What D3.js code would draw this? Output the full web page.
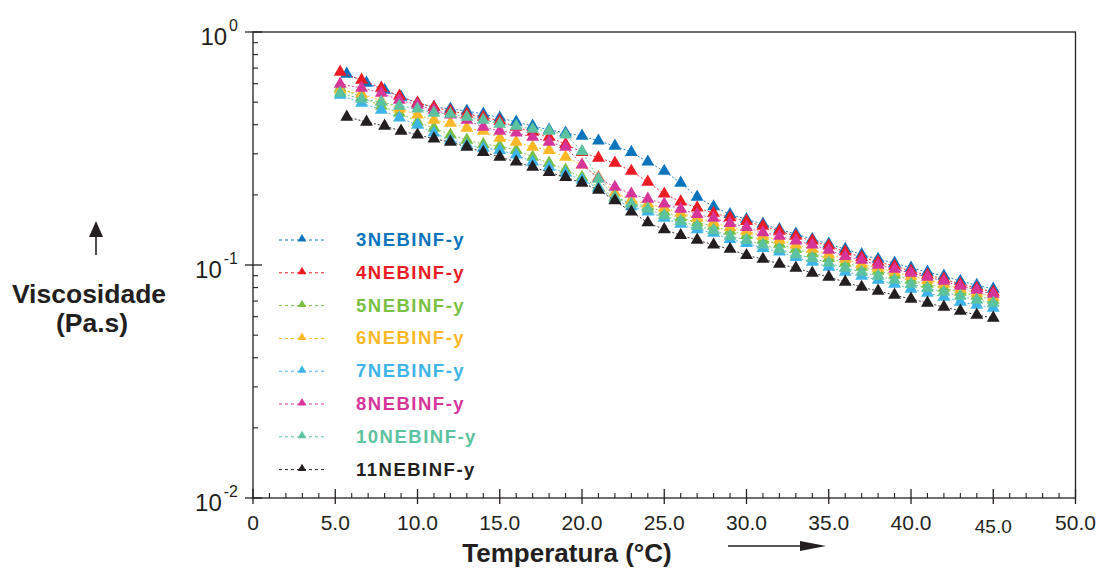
<!DOCTYPE html>
<html>
<head>
<meta charset="utf-8">
<script src="https://cdn.jsdelivr.net/npm/d3@7"></script>
<style>
  html, body { margin: 0; padding: 0; background: #fff; }
  svg { display: block; }
</style>
</head>
<body>
<svg id="chart" width="1104" height="569"></svg>
<script>
// ---------- data ----------
const tempsA = [5.3, 6.6, 7.8, 8.9, 10, 11, 12, 13, 14, 15, 16, 17, 18, 19, 20, 21, 22, 23, 24, 25, 26, 27, 28, 29, 30, 31, 32, 33, 34, 35, 36, 37, 38, 39, 40, 41, 42, 43, 44, 45];
const tempsB = [5.7, 6.9, 8.0, 9.0, 10, 11, 12, 13, 14, 15, 16, 17, 18, 19, 20, 21, 22, 23, 24, 25, 26, 27, 28, 29, 30, 31, 32, 33, 34, 35, 36, 37, 38, 39, 40, 41, 42, 43, 44, 45];

const visc3 = [0.660, 0.604, 0.563, 0.526, 0.496, 0.476, 0.468, 0.458, 0.445, 0.428, 0.411, 0.395, 0.380, 0.369, 0.358, 0.341, 0.324, 0.305, 0.277, 0.253, 0.225, 0.196, 0.178, 0.165, 0.157, 0.150, 0.142, 0.136, 0.129, 0.123, 0.117, 0.111, 0.106, 0.102, 0.0971, 0.0933, 0.0897, 0.0853, 0.0820, 0.0789];
const visc4 = [0.674, 0.622, 0.575, 0.531, 0.496, 0.476, 0.458, 0.445, 0.432, 0.415, 0.391, 0.372, 0.354, 0.330, 0.305, 0.288, 0.274, 0.253, 0.227, 0.202, 0.187, 0.176, 0.167, 0.160, 0.154, 0.147, 0.140, 0.133, 0.127, 0.121, 0.114, 0.108, 0.103, 0.0990, 0.0942, 0.0906, 0.0871, 0.0828, 0.0796, 0.0766];
const visc5 = [0.575, 0.526, 0.481, 0.449, 0.411, 0.387, 0.362, 0.344, 0.330, 0.324, 0.311, 0.291, 0.274, 0.256, 0.238, 0.216, 0.194, 0.185, 0.178, 0.169, 0.160, 0.152, 0.147, 0.140, 0.134, 0.128, 0.123, 0.117, 0.112, 0.107, 0.102, 0.0980, 0.0942, 0.0906, 0.0862, 0.0828, 0.0796, 0.0766, 0.0736, 0.0708];
const visc6 = [0.563, 0.542, 0.506, 0.468, 0.441, 0.419, 0.407, 0.387, 0.376, 0.351, 0.337, 0.321, 0.311, 0.291, 0.269, 0.238, 0.204, 0.190, 0.183, 0.176, 0.167, 0.159, 0.152, 0.145, 0.140, 0.133, 0.128, 0.122, 0.117, 0.111, 0.106, 0.101, 0.0971, 0.0933, 0.0897, 0.0862, 0.0828, 0.0789, 0.0758, 0.0729];
const visc7 = [0.536, 0.496, 0.463, 0.428, 0.399, 0.369, 0.344, 0.327, 0.318, 0.311, 0.297, 0.277, 0.263, 0.248, 0.232, 0.214, 0.190, 0.178, 0.169, 0.159, 0.150, 0.142, 0.137, 0.129, 0.124, 0.118, 0.114, 0.108, 0.103, 0.0980, 0.0933, 0.0897, 0.0862, 0.0828, 0.0789, 0.0758, 0.0729, 0.0694, 0.0674, 0.0654];
const visc8 = [0.598, 0.575, 0.547, 0.511, 0.486, 0.463, 0.441, 0.419, 0.391, 0.376, 0.369, 0.354, 0.337, 0.321, 0.269, 0.236, 0.216, 0.202, 0.192, 0.183, 0.174, 0.165, 0.159, 0.151, 0.145, 0.138, 0.133, 0.127, 0.122, 0.116, 0.109, 0.105, 0.100, 0.0961, 0.0924, 0.0888, 0.0853, 0.0812, 0.0781, 0.0750];
const visc10 = [0.547, 0.516, 0.500, 0.481, 0.468, 0.449, 0.445, 0.432, 0.419, 0.403, 0.395, 0.383, 0.376, 0.362, 0.308, 0.234, 0.196, 0.183, 0.174, 0.163, 0.154, 0.147, 0.141, 0.133, 0.128, 0.122, 0.117, 0.111, 0.107, 0.102, 0.0971, 0.0933, 0.0897, 0.0862, 0.0828, 0.0796, 0.0766, 0.0736, 0.0708, 0.0687];
const visc11 = [0.432, 0.411, 0.395, 0.376, 0.362, 0.348, 0.337, 0.321, 0.305, 0.291, 0.277, 0.263, 0.250, 0.238, 0.225, 0.210, 0.189, 0.169, 0.152, 0.142, 0.134, 0.128, 0.122, 0.117, 0.110, 0.106, 0.101, 0.0971, 0.0924, 0.0888, 0.0845, 0.0804, 0.0773, 0.0743, 0.0715, 0.0687, 0.0660, 0.0635, 0.0610, 0.0592];

const seriesNames = ["3NEBINF-y", "4NEBINF-y", "5NEBINF-y", "6NEBINF-y", "7NEBINF-y", "8NEBINF-y", "10NEBINF-y", "11NEBINF-y"];
const seriesColors = ["#0b74bd", "#ed1c24", "#7ac143", "#fdb827", "#3db5e8", "#d6359a", "#5cc29f", "#231f20"];
const seriesValues = [visc3, visc4, visc5, visc6, visc7, visc8, visc10, visc11];
const seriesTemps = [tempsB, tempsA, tempsA, tempsA, tempsA, tempsA, tempsA, tempsB];

const xTickValues = [0, 5, 10, 15, 20, 25, 30, 35, 40, 45, 50];
const xTickLabels = ["0", "5.0", "10.0", "15.0", "20.0", "25.0", "30.0", "35.0", "40.0", "45.0", "50.0"];
const yTickValues = [1, 0.1, 0.01];
const yTickExponents = ["0", "-1", "-2"];

// ---------- layout ----------
const svg = d3.select("#chart");
const X0 = 253, X1 = 1075.5, Y0 = 498, Y1 = 32;
const x = d3.scaleLinear().domain([0, 50]).range([X0, X1]);
const y = d3.scaleLog().domain([0.01, 1]).range([Y0, Y1]);
const FONT = "'Liberation Sans', Arial, Helvetica, sans-serif";

// frame
svg.append("rect").attr("x", X0).attr("y", Y1).attr("width", X1 - X0).attr("height", Y0 - Y1)
  .attr("fill", "none").attr("stroke", "#231f20").attr("stroke-width", 1.3);

// y ticks (log): majors and minors, pointing inward
const yMinor = [];
[0.01, 0.1].forEach(d => { for (let k = 2; k <= 9; k++) yMinor.push(d * k); });
svg.append("g").selectAll("line").data(yMinor).join("line")
  .attr("x1", X0).attr("x2", X0 + 5).attr("y1", d => y(d)).attr("y2", d => y(d))
  .attr("stroke", "#231f20").attr("stroke-width", 1.1);
svg.append("g").selectAll("line").data(yTickValues).join("line")
  .attr("x1", X0 - 8).attr("x2", X0 + 9).attr("y1", d => y(d)).attr("y2", d => y(d))
  .attr("stroke", "#231f20").attr("stroke-width", 1.3);

// y tick labels 10^n
const yl = svg.append("g").selectAll("text").data(yTickValues).join("text")
  .attr("x", 238).attr("y", d => y(d) + 13)
  .attr("text-anchor", "end").attr("font-family", FONT).attr("fill", "#231f20");
yl.append("tspan").attr("font-size", 24).text("10");
yl.append("tspan").attr("font-size", 16).attr("dx", 2).attr("dy", -14).text((d, i) => yTickExponents[i]);

// x ticks
const xMinor = d3.range(1, 50).filter(v => v % 5 !== 0);
svg.append("g").selectAll("line").data(xMinor).join("line")
  .attr("x1", d => x(d)).attr("x2", d => x(d)).attr("y1", Y0).attr("y2", Y0 - 5)
  .attr("stroke", "#231f20").attr("stroke-width", 1.1);
svg.append("g").selectAll("line").data(xTickValues).join("line")
  .attr("x1", d => x(d)).attr("x2", d => x(d)).attr("y1", Y0 + 6).attr("y2", Y0 - 9)
  .attr("stroke", "#231f20").attr("stroke-width", 1.3);
svg.append("g").selectAll("text").data(xTickValues).join("text")
  .attr("x", d => x(d)).attr("y", (d, i) => xTickLabels[i] === "45.0" ? 533 : 530)
  .attr("text-anchor", "middle").attr("font-family", FONT)
  .attr("font-size", (d, i) => xTickLabels[i] === "45.0" ? 19 : 21)
  .attr("fill", "#231f20")
  .text((d, i) => xTickLabels[i]);

// axis titles and arrows
svg.append("text").attr("x", 567).attr("y", 562).attr("text-anchor", "middle")
  .attr("font-family", FONT).attr("font-weight", "bold").attr("font-size", 26).attr("fill", "#231f20")
  .text("Temperatura (°C)");
svg.append("line").attr("x1", 728).attr("x2", 802).attr("y1", 546).attr("y2", 546)
  .attr("stroke", "#231f20").attr("stroke-width", 1.6);
svg.append("path").attr("d", "M800,541 L826,546 L800,551 Z").attr("fill", "#231f20");

svg.append("text").attr("x", 89).attr("y", 303).attr("text-anchor", "middle")
  .attr("font-family", FONT).attr("font-weight", "bold").attr("font-size", 26.5).attr("fill", "#231f20")
  .text("Viscosidade");
svg.append("text").attr("x", 92).attr("y", 332).attr("text-anchor", "middle")
  .attr("font-family", FONT).attr("font-weight", "bold").attr("font-size", 26.5).attr("fill", "#231f20")
  .text("(Pa.s)");
svg.append("line").attr("x1", 96).attr("x2", 96).attr("y1", 255).attr("y2", 234)
  .attr("stroke", "#231f20").attr("stroke-width", 1.6);
svg.append("path").attr("d", "M89,237 L96,221 L103,237 Z").attr("fill", "#231f20");

// ---------- series ----------
const line = d3.line().x(d => x(d.t)).y(d => y(d.v));
const tri = d3.symbol().type(d3.symbolTriangle).size(72);
const triSmall = d3.symbol().type(d3.symbolTriangle).size(32);

const series = seriesNames.map((name, i) => ({
  name, color: seriesColors[i],
  points: seriesValues[i].map((v, j) => ({ t: seriesTemps[i][j], v }))
}));

const sg = svg.append("g").selectAll("g").data(series).join("g");
sg.append("path").attr("d", d => line(d.points)).attr("fill", "none")
  .attr("stroke", d => d.color).attr("stroke-width", 1).attr("stroke-dasharray", "2,2").attr("opacity", 0.9);
sg.selectAll("path.m").data(d => d.points.map(p => ({ ...p, color: d.color }))).join("path")
  .attr("class", "m").attr("d", tri)
  .attr("transform", p => `translate(${x(p.t)},${y(p.v)})`)
  .attr("fill", p => p.color);

// ---------- legend ----------
const lg = svg.append("g").selectAll("g").data(series).join("g")
  .attr("transform", (d, i) => `translate(0,${240 + i * 32.8})`);
lg.append("line").attr("x1", 279).attr("x2", 325).attr("y1", 0).attr("y2", 0)
  .attr("stroke", d => d.color).attr("stroke-width", 1).attr("stroke-dasharray", "3,3");
lg.append("path").attr("d", triSmall).attr("transform", "translate(302,-1)").attr("fill", d => d.color);
lg.append("text").attr("x", 356).attr("y", 6).attr("font-family", FONT).attr("font-weight", "bold")
  .attr("font-size", 18.5).attr("letter-spacing", 1.5).attr("fill", d => d.color).text(d => d.name);
</script>
</body>
</html>
